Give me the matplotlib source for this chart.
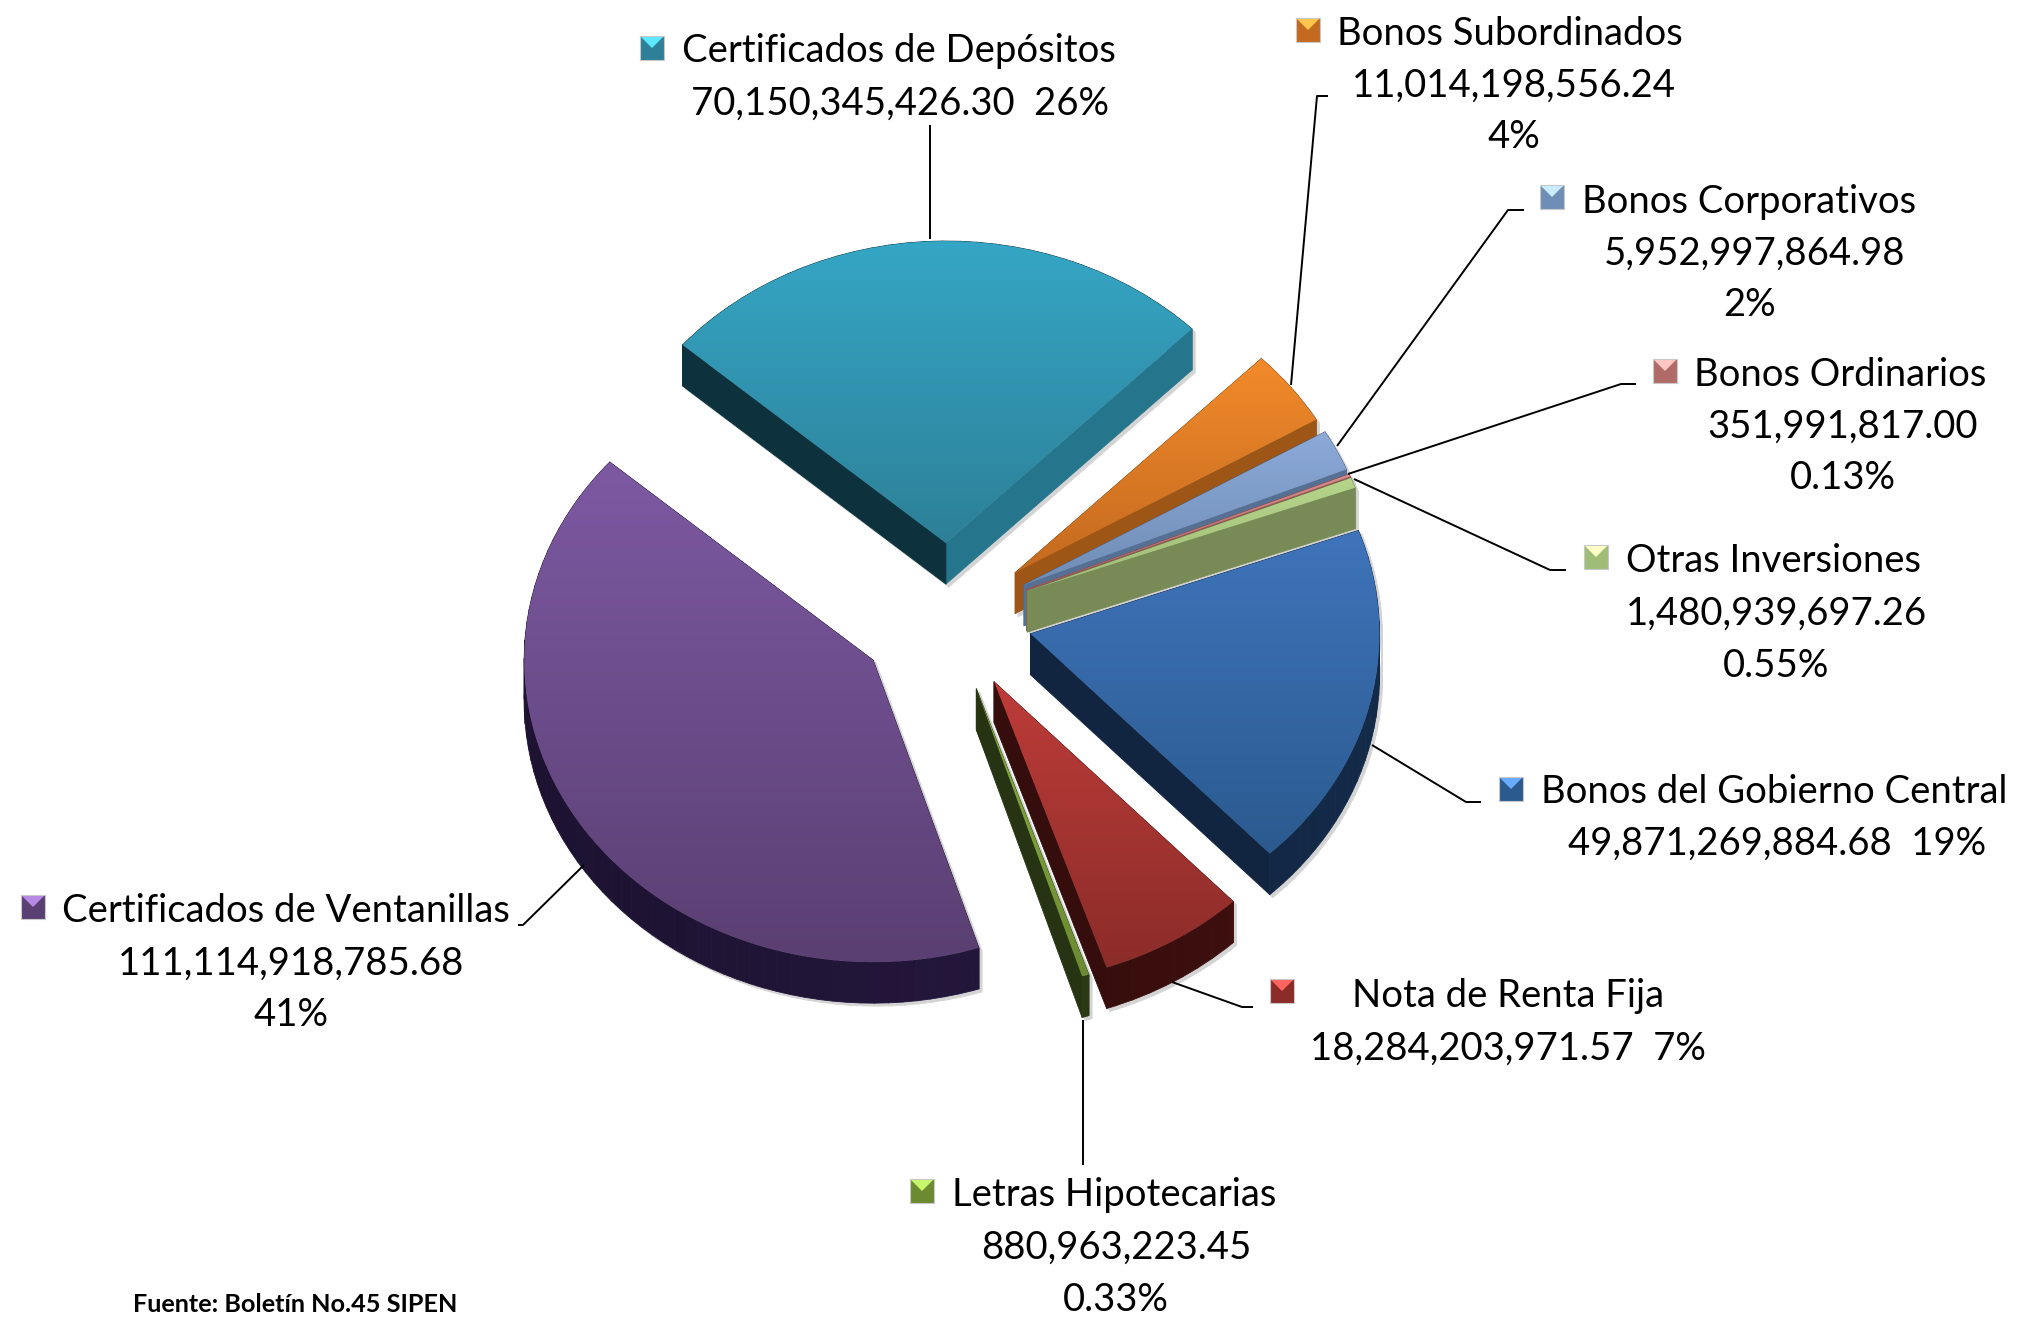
import numpy as np
import matplotlib
matplotlib.use('Agg')
import matplotlib.pyplot as plt
from matplotlib.collections import PolyCollection
from matplotlib.colors import to_rgb
from matplotlib.patches import Polygon

# slices, clockwise from the top one
names = ['Certificados de Depósitos', 'Bonos Subordinados', 'Bonos Corporativos', 'Bonos Ordinarios',
         'Otras Inversiones', 'Bonos del Gobierno Central', 'Nota de Renta Fija', 'Letras Hipotecarias',
         'Certificados de Ventanillas']
values = [70150345426.30, 11014198556.24, 5952997864.98, 351991817.00,
          1480939697.26, 49871269884.68, 18284203971.57, 880963223.45, 111114918785.68]
value_labels = ['70,150,345,426.30', '11,014,198,556.24', '5,952,997,864.98', '351,991,817.00',
                '1,480,939,697.26', '49,871,269,884.68', '18,284,203,971.57', '880,963,223.45',
                '111,114,918,785.68']
percent_labels = ['26%', '4%', '2%', '0.13%', '0.55%', '19%', '7%', '0.33%', '41%']

top_light = ['#35a6c5', '#f28a2a', '#8ca9d8', '#d98a88', '#b6d48a', '#3f74bb', '#bd3c38', '#8ab040', '#7d59a2']
top_dark = ['#2d8098', '#c46a20', '#6f8db5', '#b06a68', '#a0bd78', '#2b5a8f', '#8b2c29', '#6c8a32', '#5a3f72']
side_lit = ['#277b92', '#ad5f18', '#5f7ba3', '#a86060', '#84995f', '#132a49', '#4a1212', '#33451a', '#23163b']
side_dark = ['#103a46', '#8a4c14', '#4b6285', '#8a4c4c', '#6a7a4e', '#132a49', '#3d0f0e', '#2b3a15', '#23163b']
explode = [0.245, 0.24, 0.24, 0.24, 0.24, 0.24, 0.25, 0.25, 0.26]

W, H = 2025, 1319
CX, CY, RX, RY = 949, 617, 349, 302
DEPTH = 41 / RY
FS = 27.5

fig = plt.figure(figsize=(W / 100, H / 100), dpi=100)
ax = fig.add_axes([0, 0, 1, 1])
wedges, _ = ax.pie(values, startangle=139, counterclock=False, explode=explode,
                   colors=['none'] * len(values), wedgeprops={'linewidth': 0})
ax.set_aspect('auto')
ax.set_xlim(-CX / RX, (W - CX) / RX)
ax.set_ylim((CY - H) / RY, CY / RY)
ax.axis('off')
xlim, ylim = ax.get_xlim(), ax.get_ylim()

# back slices first, so the nearer ones cover them
order = [0, 1, 2, 3, 4, 5, 8, 7, 6]
inv = ax.transData.inverted()
shadow_shift = np.array([3 / RX, -3 / RY])
for z, i in enumerate(order):
    w = wedges[i]
    poly = inv.transform(w.get_path().to_polygons(transform=ax.transData)[0])
    apex = np.array(w.center)
    x, y = poly[:, 0], poly[:, 1]
    area = np.sum(x[:-1] * y[1:] - x[1:] * y[:-1])
    quads, cols = [], []
    x0, x1 = x.min(), x.max()
    for a, b in zip(poly[:-1], poly[1:]):
        if np.allclose(a, b):
            continue
        mid = (a + b) / 2
        nx = (b - a)[1] * np.sign(area)
        radial = np.hypot(*(mid - apex)) < 0.97
        base = to_rgb(side_lit[i] if (radial and nx > 0) else side_dark[i])
        shade = 0.82 + 0.18 * (mid[0] - x0) / max(x1 - x0, 1e-6)
        quads.append([a, b, b - [0, DEPTH], a - [0, DEPTH]])
        cols.append(tuple(c * shade for c in base))
    # faint drop shadow under everything
    ax.add_collection(PolyCollection([np.array(q) + shadow_shift for q in quads], facecolors='#d4d4d4',
                                     edgecolors='#d4d4d4', linewidths=0.6, zorder=0))
    keys = np.argsort([-np.mean(q, axis=0)[1] for q in quads])
    ax.add_collection(PolyCollection([quads[k] for k in keys], facecolors=[cols[k] for k in keys],
                                     edgecolors=[cols[k] for k in keys], linewidths=0.6, zorder=2 * z + 1))
    # top face: vertical gradient clipped to the wedge
    c0, c1 = np.array(to_rgb(top_light[i])), np.array(to_rgb(top_dark[i]))
    grad = np.linspace(0, 1, 128)[:, None, None] * (c1 - c0)[None, None, :] + c0[None, None, :]
    im = ax.imshow(grad, extent=[x0, x1, y.min(), y.max()], origin='upper', aspect='auto',
                   interpolation='bilinear', zorder=2 * z + 2)
    w.set_zorder(2 * z + 2)
    im.set_clip_path(w)
ax.set_xlim(xlim)
ax.set_ylim(ylim)

# overlay in picture pixels for labels and leader lines
lay = fig.add_axes([0, 0, 1, 1], facecolor='none')
lay.set_xlim(0, W)
lay.set_ylim(H, 0)
lay.axis('off')

leaders = [[(930, 125), (930, 239)],
           [(1328, 96), (1317, 96), (1291, 385)],
           [(1524, 210), (1508, 210), (1337, 446)],
           [(1636, 384), (1621, 384), (1348, 474)],
           [(1566, 570), (1550, 570), (1354, 479)],
           [(1481, 802), (1466, 802), (1372, 745)],
           [(1253, 1007), (1242, 1007), (1172, 982)],
           [(1083, 1165), (1083, 1020)],
           [(518, 925), (523, 925), (584, 865)]]
for pts in leaders:
    px, py = zip(*pts)
    lay.plot(px, py, color='black', lw=1.4, solid_capstyle='butt')

# key centre, name start, then centre and lines of the value rows
key_pos = [(652, 48), (1308, 30), (1552, 197), (1665, 371), (1596, 557), (1511, 789), (1282, 991), (922, 1191), (33, 907)]
name_pos = [(682, 51), (1337, 34), (1582, 202), (1694, 375), (1626, 561), (1541, 792), (1352, 996), (952, 1195), (62, 911)]
rows = [[(900, 104)], [(1514, 86), (1514, 137)], [(1755, 254), (1750, 305)], [(1843, 427), (1843, 478)],
        [(1776, 614), (1776, 666)], [(1777, 844)], [(1508, 1049)], [(1116, 1248), (1116, 1300)],
        [(291, 964), (291, 1015)]]

for i in range(len(names)):
    cx, cy = key_pos[i]
    s = 12
    bright = tuple(min(1, c * 1.25 + 0.1) for c in to_rgb(top_light[i]))
    lay.add_patch(Polygon([(cx - s, cy - s), (cx + s, cy - s), (cx + s, cy + s), (cx - s, cy + s)],
                          facecolor=top_dark[i], edgecolor='#c8c8c8', lw=0.8, zorder=3))
    lay.add_patch(Polygon([(cx - s + 1, cy - s + 1), (cx + s - 1, cy - s + 1), (cx, cy)],
                          facecolor=bright, edgecolor='none', zorder=4))
    lay.text(name_pos[i][0], name_pos[i][1], names[i], fontsize=FS, family='Lato', ha='left', va='center')
    if len(rows[i]) == 1:
        lay.text(rows[i][0][0], rows[i][0][1], value_labels[i] + '  ' + percent_labels[i], fontsize=FS,
                 family='Lato', ha='center', va='center')
    else:
        lay.text(rows[i][0][0], rows[i][0][1], value_labels[i], fontsize=FS, family='Lato', ha='center', va='center')
        lay.text(rows[i][1][0], rows[i][1][1], percent_labels[i], fontsize=FS, family='Lato', ha='center', va='center')

lay.text(133, 1305, 'Fuente: Boletín No.45 SIPEN', fontsize=18.2, family='Lato', fontweight='bold', ha='left', va='center')

fig.savefig('out.png', dpi=100)
